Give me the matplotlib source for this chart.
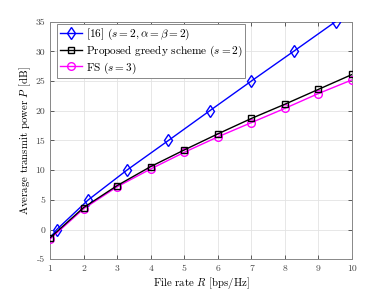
import matplotlib
matplotlib.use('Agg')
import matplotlib.pyplot as plt

# Data
r_ref = [1.0, 1.2, 2.14, 3.29, 4.53, 5.76, 7.0, 8.26, 9.51]
p_ref = [-1.4, 0, 5, 10, 15, 20, 25, 30, 35]

r_greedy = [1, 2, 3, 4, 5, 6, 7, 8, 9, 10]
p_greedy = [-1.4, 3.7, 7.4, 10.6, 13.4, 16.1, 18.7, 21.1, 23.6, 26.1]

r_fs = [1, 2, 3, 4, 5, 6, 7, 8, 9, 10]
p_fs = [-1.6, 3.5, 7.2, 10.2, 13.0, 15.6, 18.0, 20.4, 22.9, 25.2]

plt.rcParams['font.family'] = 'cmr10'
plt.rcParams['mathtext.fontset'] = 'cm'
plt.rcParams['axes.unicode_minus'] = False
plt.rcParams['axes.formatter.use_mathtext'] = False

fig = plt.figure(figsize=(3.89, 2.92), dpi=100)
ax = fig.add_axes([0.1285, 0.112, 0.7765, 0.814])

ax.plot(r_ref, p_ref, color='blue', marker='d', markersize=6.5, markerfacecolor='none',
        markeredgewidth=1.0, linewidth=1.0, markevery=list(range(1, len(r_ref))),
        label=r'[16] $(s=2,\alpha=\beta=2)$', zorder=3)
ax.plot(r_fs, p_fs, color='magenta', marker='o', markersize=5.5, markerfacecolor='none',
        markeredgewidth=1.0, linewidth=1.0, label=r'FS $(s=3)$', zorder=3)
ax.plot(r_greedy, p_greedy, color='black', marker='s', markersize=5, markerfacecolor='none',
        markeredgewidth=1.0, linewidth=1.0, label=r'Proposed greedy scheme $(s=2)$', zorder=4)

ax.set_xlim(1, 10)
ax.set_ylim(-5, 35)
ax.set_xticks(range(1, 11))
ax.set_yticks(range(-5, 36, 5))
ax.grid(True, color='#e3e3e3', linewidth=0.6)
ax.set_axisbelow(True)
ax.tick_params(direction='in', top=True, right=True, labelsize=7, colors='#444444',
               length=3, width=0.6)
for s in ax.spines.values():
    s.set_color('#888888')
    s.set_linewidth(0.7)

ax.set_xlabel(r'File rate $R$ [bps/Hz]', fontsize=7.8, labelpad=2)
ax.set_ylabel(r'Average transmit power $P$ [dB]', fontsize=7.8)
ax.yaxis.set_label_coords(-0.055, 0.5)

h, l = ax.get_legend_handles_labels()
order = [0, 2, 1]
leg = ax.legend([h[i] for i in order], [l[i] for i in order], loc='upper left',
                fontsize=8.1, fancybox=False, framealpha=1, edgecolor='#888888',
                handlelength=2.0, borderpad=0.25, labelspacing=0.12, handletextpad=0.3,
                bbox_to_anchor=(0.023, 0.99), borderaxespad=0)
leg.get_frame().set_linewidth(0.7)

plt.savefig('out.png', dpi=100)
